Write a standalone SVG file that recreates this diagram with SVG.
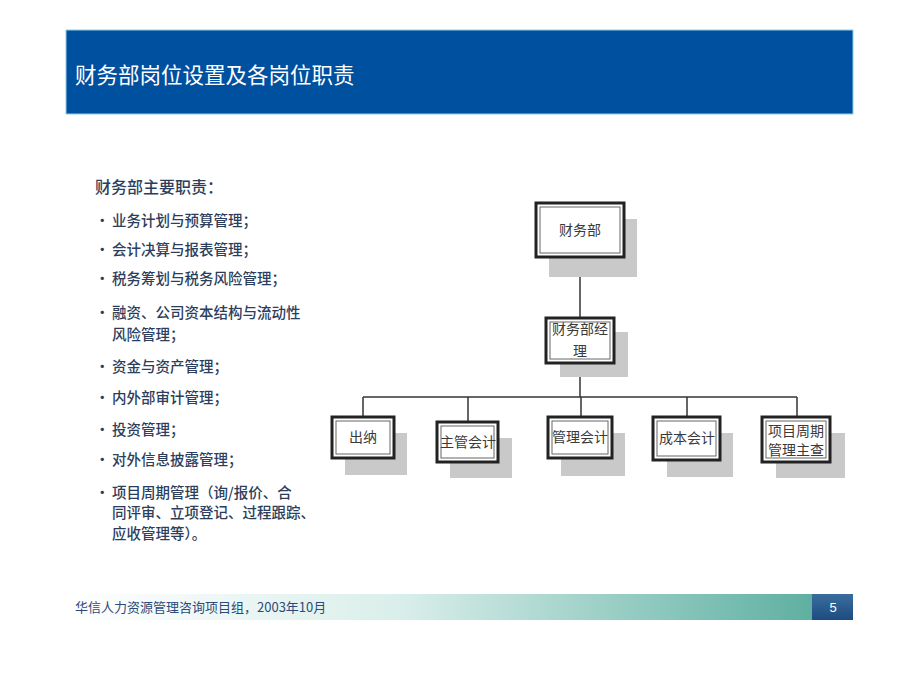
<svg xmlns="http://www.w3.org/2000/svg" width="920" height="690" viewBox="0 0 920 690">
<defs>
<linearGradient id="fg" x1="0" y1="0" x2="1" y2="0">
<stop offset="0" stop-color="#ffffff"/>
<stop offset="0.45" stop-color="#d9eeea"/>
<stop offset="1" stop-color="#5fb0a2"/>
</linearGradient>
<linearGradient id="pg" x1="0" y1="0" x2="0" y2="1">
<stop offset="0" stop-color="#3a6d9e"/>
<stop offset="1" stop-color="#1d4c80"/>
</linearGradient>
</defs>
<style>
.cjk{font-family:"Noto Sans CJK SC","Liberation Sans",sans-serif;}
.body{font-size:14.5px;fill:#2c3e5c;font-weight:500;}
.node{font-family:"Noto Sans CJK SC",sans-serif;font-size:14px;fill:#3a3a3a;text-anchor:middle;}
.shadow{fill:#c9c9c9;}
.outer{fill:#ffffff;stroke:#222;stroke-width:3;}
.inner{fill:none;stroke:#666;stroke-width:1;}
.conn{stroke:#333;stroke-width:1.5;fill:none;}
</style>
<rect width="920" height="690" fill="#ffffff"/>
<g id="header">
<rect x="66" y="30" width="787" height="84" fill="#0050a0" stroke="#8fd0e8" stroke-width="1"/>
<text x="75" y="83" class="cjk" font-size="21.5" fill="#ffffff">财务部岗位设置及各岗位职责</text>
</g>
<g id="duties" class="cjk">
<text x="95" y="193" font-size="16" font-weight="500" fill="#2c3e5c">财务部主要职责：</text>
<g class="body">
<text x="95" y="226">•</text><text x="112" y="226">业务计划与预算管理；</text>
<text x="95" y="255">•</text><text x="112" y="255">会计决算与报表管理；</text>
<text x="95" y="284">•</text><text x="112" y="284">税务筹划与税务风险管理；</text>
<text x="95" y="318">•</text><text x="112" y="318">融资、公司资本结构与流动性</text>
<text x="112" y="340">风险管理；</text>
<text x="95" y="372">•</text><text x="112" y="372">资金与资产管理；</text>
<text x="95" y="403">•</text><text x="112" y="403">内外部审计管理；</text>
<text x="95" y="435">•</text><text x="112" y="435">投资管理；</text>
<text x="95" y="465">•</text><text x="112" y="465">对外信息披露管理；</text>
<text x="95" y="498">•</text><text x="112" y="498">项目周期管理（询/报价、合</text>
<text x="112" y="518">同评审、立项登记、过程跟踪、</text>
<text x="112" y="539">应收管理等）。</text>
</g>
</g>
<g id="connectors">
<line class="conn" x1="580" y1="257" x2="580" y2="318"/>
<line class="conn" x1="580" y1="363" x2="580" y2="397"/>
<line class="conn" x1="363" y1="397" x2="797" y2="397"/>
<line class="conn" x1="363" y1="397" x2="363" y2="417"/>
<line class="conn" x1="468" y1="397" x2="468" y2="422"/>
<line class="conn" x1="581" y1="397" x2="581" y2="417"/>
<line class="conn" x1="687" y1="397" x2="687" y2="417"/>
<line class="conn" x1="797" y1="397" x2="797" y2="417"/>
</g>
<g id="n-caiwubu">
<rect class="shadow" x="549" y="219" width="88" height="58"/>
<rect class="outer" x="536" y="203" width="88" height="54"/>
<rect class="inner" x="540" y="207" width="80" height="46"/>
<text class="node" x="580" y="235">财务部</text>
</g>
<g id="n-jingli">
<rect class="shadow" x="560" y="332" width="68" height="45"/>
<rect class="outer" x="546" y="318" width="68" height="45"/>
<rect class="inner" x="550" y="322" width="60" height="37"/>
<text class="node" x="580" y="334">财务部经</text>
<text class="node" x="580" y="356">理</text>
</g>
<g id="n-chuna">
<rect class="shadow" x="345" y="433" width="62" height="42"/>
<rect class="outer" x="332" y="417" width="62" height="41"/>
<rect class="inner" x="336" y="421" width="54" height="33"/>
<text class="node" x="363" y="442">出纳</text>
</g>
<g id="n-zhuguan">
<rect class="shadow" x="450" y="438" width="62" height="40"/>
<rect class="outer" x="437" y="422" width="61" height="40"/>
<rect class="inner" x="441" y="426" width="53" height="32"/>
<text class="node" x="468" y="447" font-size="13">主管会计</text>
</g>
<g id="n-guanli">
<rect class="shadow" x="561" y="433" width="64" height="43"/>
<rect class="outer" x="548" y="417" width="64" height="41"/>
<rect class="inner" x="552" y="421" width="56" height="33"/>
<text class="node" x="580" y="442" font-size="13">管理会计</text>
</g>
<g id="n-chengben">
<rect class="shadow" x="667" y="433" width="66" height="44"/>
<rect class="outer" x="653" y="417" width="67" height="43"/>
<rect class="inner" x="657" y="421" width="59" height="35"/>
<text class="node" x="687" y="443" font-size="13">成本会计</text>
</g>
<g id="n-xiangmu">
<rect class="shadow" x="776" y="433" width="69" height="45"/>
<rect class="outer" x="762" y="417" width="68" height="45"/>
<rect class="inner" x="766" y="421" width="60" height="37"/>
<text class="node" x="796" y="436" font-size="13">项目周期</text>
<text class="node" x="796" y="455" font-size="13">管理主查</text>
</g>
<g id="footer">
<rect x="66" y="594" width="746" height="26" fill="url(#fg)"/>
<rect x="812" y="594" width="41" height="26" fill="url(#pg)"/>
<text x="75" y="612" class="cjk" font-size="13" fill="#2a4a7a">华信人力资源管理咨询项目组，2003年10月</text>
<text x="833" y="612" font-family="Liberation Sans, sans-serif" font-size="13" fill="#ffffff" text-anchor="middle">5</text>
</g>
</svg>
